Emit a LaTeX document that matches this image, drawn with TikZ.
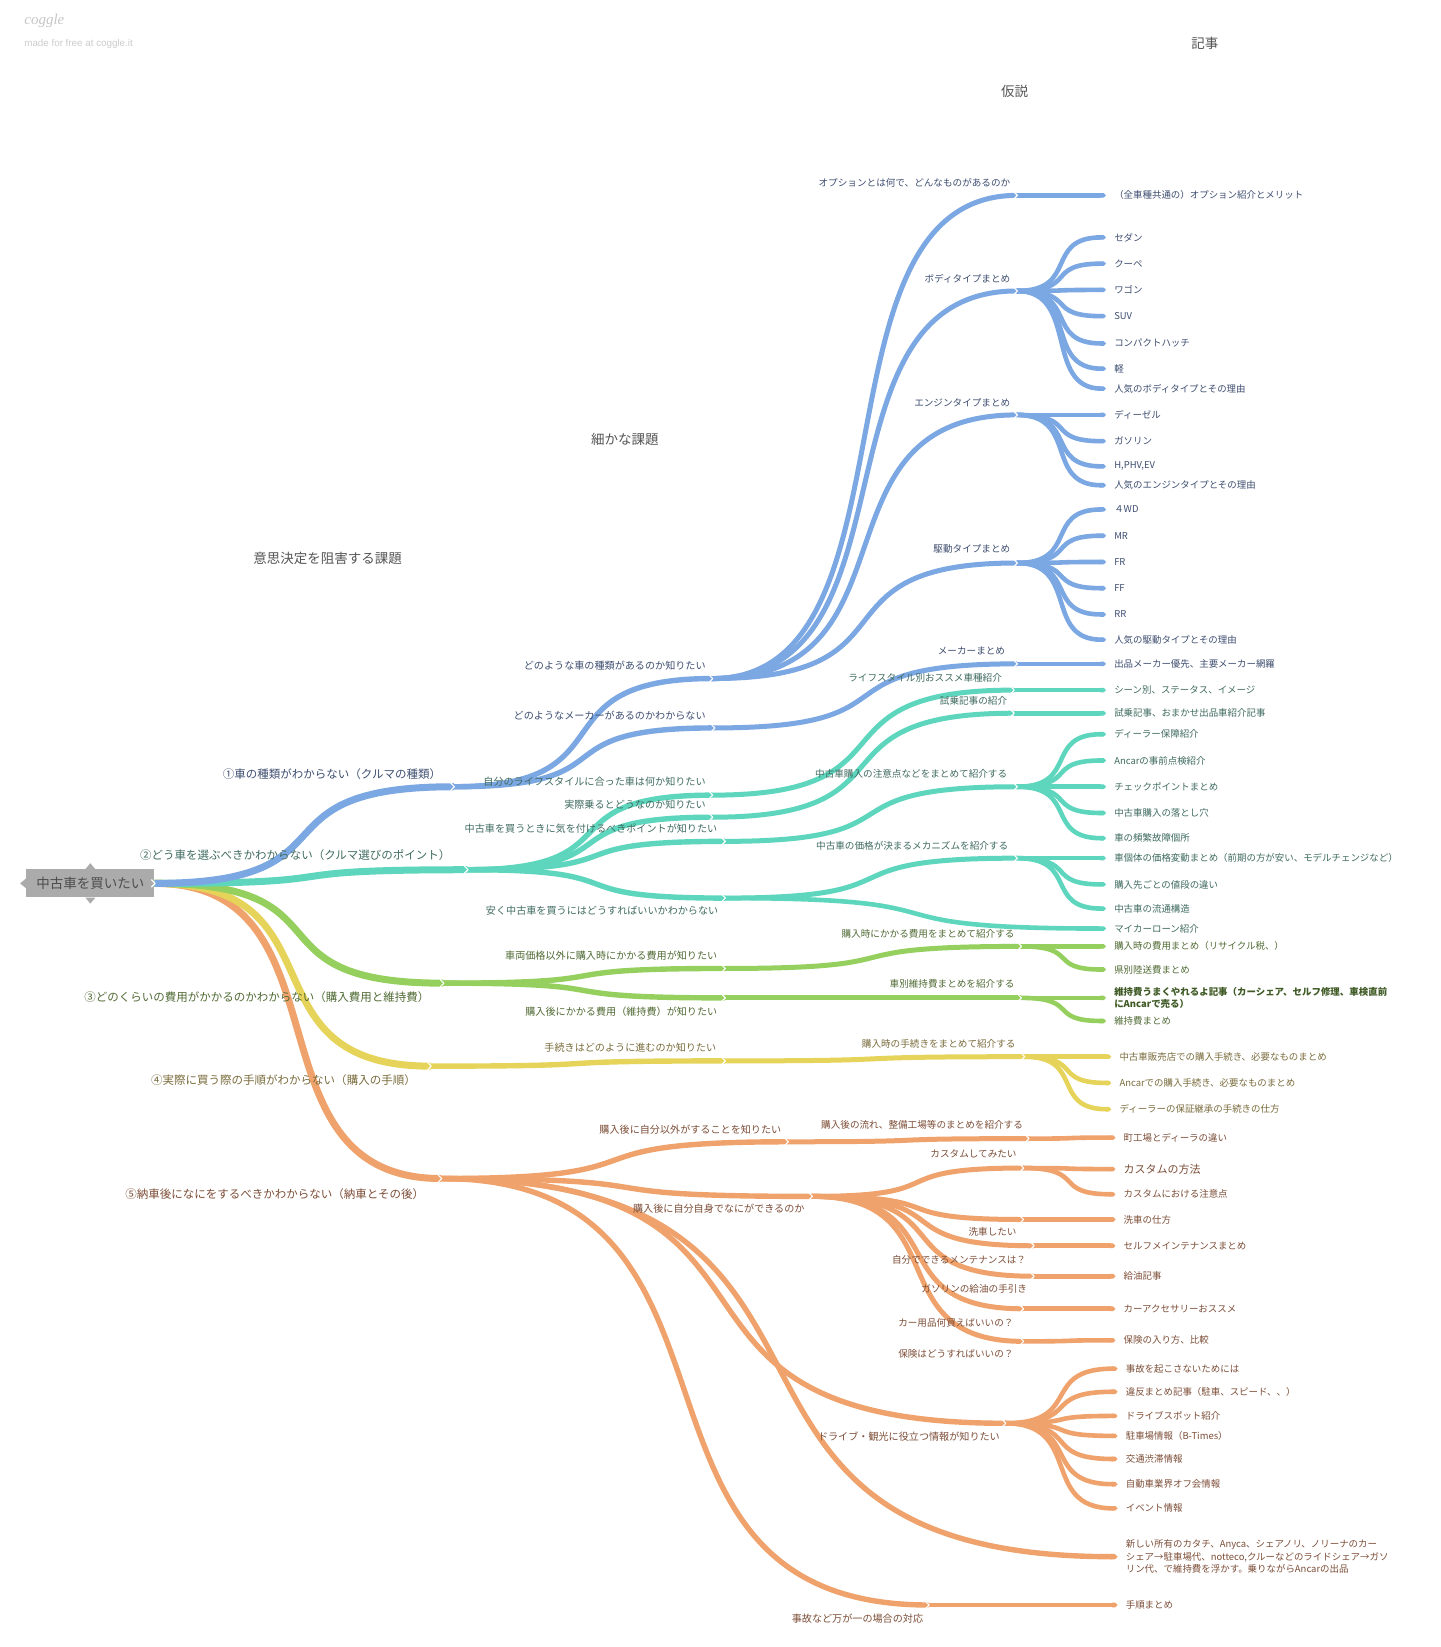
\documentclass[tikz,border=0pt]{standalone}
\usepackage{fontspec}
\setmainfont{Noto Sans CJK JP}
\newfontfamily\logofont{Liberation Serif}
\newfontfamily\logosans{Liberation Sans}
\usetikzlibrary{arrows.meta,calc}
\definecolor{cB}{HTML}{7BA7E2}
\definecolor{cT}{HTML}{5ED6BD}
\definecolor{cG}{HTML}{95D05E}
\definecolor{cY}{HTML}{E6D45A}
\definecolor{cO}{HTML}{EFA26B}
\definecolor{kB}{HTML}{3E4E70}
\definecolor{kT}{HTML}{3F6B60}
\definecolor{kG}{HTML}{516B35}
\definecolor{kGb}{HTML}{3F5A25}
\definecolor{kY}{HTML}{7A6C3C}
\definecolor{kO}{HTML}{7D4E38}
\definecolor{kH}{HTML}{555555}
\definecolor{rootg}{HTML}{ABABAB}
\newcommand\mmlink[3]{\draw[#1] let \p1=(#2), \p2=(#3) in (\p1) .. controls ({\x1+0.7*(\x2-\x1)},\y1) and ({\x2-0.7*(\x2-\x1)},\y2) .. (\p2);}
\newcommand\mmchev[1]{\draw[white,line width=1.1pt,line cap=round,line join=round] ([shift={(-3pt,3.6pt)}]#1) -- ([shift={(0.6pt,0pt)}]#1) -- ([shift={(-3pt,-3.6pt)}]#1);}
\newcommand\mmleaf[7]{\coordinate (#3) at (#4,#5); \mmlink{#1}{#2}{#3} \node[#6,anchor=west] (#3t) at ([xshift=7pt]#3) {#7};}
\tikzset{
  lw1/.style={line width=7pt},
  lw2/.style={line width=5.4pt},
  lw3/.style={line width=5pt},
  lfw/.style={line width=4.6pt,-{Triangle Cap[]}},
  f1/.style={font=\fontsize{11.5}{13}\selectfont,inner sep=1pt},
  f2/.style={font=\fontsize{10.1}{12}\selectfont,inner sep=1pt},
  f3/.style={font=\fontsize{9.6}{11}\selectfont,inner sep=1pt},
  fl/.style={font=\fontsize{9.45}{12.6}\selectfont,inner sep=1pt},
  flb/.style={font=\bfseries\fontsize{9.45}{12}\selectfont,inner sep=1pt},
  txB/.style={text=kB}, txT/.style={text=kT}, txG/.style={text=kG},
  txY/.style={text=kY}, txO/.style={text=kO},
  hd/.style={font=\fontsize{13.5}{15}\selectfont,text=kH,inner sep=1pt}
}
\begin{document}
\begin{tikzpicture}[x=1.0503pt,y=-1.0503pt]
\useasboundingbox (0,0) rectangle (1371,1568);
\fill[white] (0,0) rectangle (1371,1568);

% logo and headings
\node[anchor=west,text=gray!45,font=\logofont\itshape\fontsize{15}{16}\selectfont,inner sep=0pt] (logo) at (23,20) {coggle};
\node[anchor=west,text=gray!40,font=\logosans\fontsize{9.8}{11}\selectfont,inner sep=0pt] (logo2) at (23,42) {made for free at coggle.it};
\node[hd] (hd1) at (1147,41) {記事};
\node[hd] (hd2) at (966,87) {仮説};
\node[hd] (hd3) at (595,418) {細かな課題};
\node[hd] (hd4) at (312,532) {意思決定を阻害する課題};

% root
\node[fill=rootg,minimum width=128pt,minimum height=28pt,inner sep=0pt,text=black!70,font=\fontsize{13.5}{15}\selectfont] (root) at (86,841) {中古車を買いたい};
\fill[rootg] ([xshift=-5pt]root.north) -- ([yshift=6pt]root.north) -- ([xshift=5pt]root.north) -- cycle;
\fill[rootg] ([xshift=-5pt]root.south) -- ([yshift=-6pt]root.south) -- ([xshift=5pt]root.south) -- cycle;
\fill[rootg] ([yshift=5pt]root.west) -- ([xshift=-6pt]root.west) -- ([yshift=-5pt]root.west) -- cycle;
\coordinate (R) at (root.east);

% junctions
\coordinate (A1) at (432,749);
\coordinate (A2) at (445,828);
\coordinate (A3) at (422,936);
\coordinate (A4) at (410,1015);
\coordinate (A5) at (420,1122);
\coordinate (B1) at (678,646);
\coordinate (B2) at (680,693);
\coordinate (T1) at (678,757);
\coordinate (T2) at (678,778);
\coordinate (T3) at (690,801);
\coordinate (T4) at (690,855);
\coordinate (G1) at (690,922);
\coordinate (G2) at (690,950);
\coordinate (Y1) at (690,1010);
\coordinate (O1) at (750,1087);
\coordinate (O2) at (773,1139);
\coordinate (O3) at (957,1355);
\coordinate (O4) at (884,1528);
\coordinate (C1) at (968,186);
\coordinate (C2) at (968,277);
\coordinate (C3) at (968,395);
\coordinate (C4) at (968,536);
\coordinate (C5) at (968,632);
\coordinate (D1) at (965,657);
\coordinate (D2) at (965,679);
\coordinate (D3) at (968,749);
\coordinate (D4) at (968,817);
\coordinate (E1) at (972,901);
\coordinate (E2) at (972,950);
\coordinate (F1) at (975,1006);
\coordinate (H1) at (979,1084);
\coordinate (H2) at (974,1112);
\coordinate (H3) at (974,1161);
\coordinate (H4) at (984,1186);
\coordinate (H5) at (984,1215);
\coordinate (H6) at (974,1246);
\coordinate (H7) at (974,1277);

% leaves (blue)
\mmleaf{cB,lfw}{C1}{K1}{1053}{186}{fl,txB}{（全車種共通の）オプション紹介とメリット}
\mmleaf{cB,lfw}{C2}{K2}{1053}{226}{fl,txB}{セダン}
\mmleaf{cB,lfw}{C2}{K3}{1053}{251}{fl,txB}{クーペ}
\mmleaf{cB,lfw}{C2}{K4}{1053}{276}{fl,txB}{ワゴン}
\mmleaf{cB,lfw}{C2}{K5}{1053}{301}{fl,txB}{SUV}
\mmleaf{cB,lfw}{C2}{K6}{1053}{327}{fl,txB}{コンパクトハッチ}
\mmleaf{cB,lfw}{C2}{K7}{1053}{351}{fl,txB}{軽}
\mmleaf{cB,lfw}{C2}{K8}{1053}{370}{fl,txB}{人気のボディタイプとその理由}
\mmleaf{cB,lfw}{C3}{K9}{1053}{395}{fl,txB}{ディーゼル}
\mmleaf{cB,lfw}{C3}{K10}{1053}{420}{fl,txB}{ガソリン}
\mmleaf{cB,lfw}{C3}{K11}{1053}{444}{fl,txB}{H,PHV,EV}
\mmleaf{cB,lfw}{C3}{K12}{1053}{462}{fl,txB}{人気のエンジンタイプとその理由}
\mmleaf{cB,lfw}{C4}{K13}{1053}{485}{fl,txB}{４WD}
\mmleaf{cB,lfw}{C4}{K14}{1053}{510}{fl,txB}{MR}
\mmleaf{cB,lfw}{C4}{K15}{1053}{535}{fl,txB}{FR}
\mmleaf{cB,lfw}{C4}{K16}{1053}{560}{fl,txB}{FF}
\mmleaf{cB,lfw}{C4}{K17}{1053}{585}{fl,txB}{RR}
\mmleaf{cB,lfw}{C4}{K18}{1053}{609}{fl,txB}{人気の駆動タイプとその理由}
\mmleaf{cB,lfw}{C5}{K19}{1053}{632}{fl,txB}{出品メーカー優先、主要メーカー網羅}
% leaves (teal)
\mmleaf{cT,lfw}{D1}{K20}{1053}{657}{fl,txT}{シーン別、ステータス、イメージ}
\mmleaf{cT,lfw}{D2}{K21}{1053}{679}{fl,txT}{試乗記事、おまかせ出品車紹介記事}
\mmleaf{cT,lfw}{D3}{K22}{1053}{699}{fl,txT}{ディーラー保障紹介}
\mmleaf{cT,lfw}{D3}{K23}{1053}{724}{fl,txT}{Ancarの事前点検紹介}
\mmleaf{cT,lfw}{D3}{K24}{1053}{749}{fl,txT}{チェックポイントまとめ}
\mmleaf{cT,lfw}{D3}{K25}{1053}{774}{fl,txT}{中古車購入の落とし穴}
\mmleaf{cT,lfw}{D3}{K26}{1053}{798}{fl,txT}{車の頻繁故障個所}
\mmleaf{cT,lfw}{D4}{K27}{1053}{817}{fl,txT}{車個体の価格変動まとめ（前期の方が安い、モデルチェンジなど）}
\mmleaf{cT,lfw}{D4}{K28}{1053}{842}{fl,txT}{購入先ごとの値段の違い}
\mmleaf{cT,lfw}{D4}{K29}{1053}{865}{fl,txT}{中古車の流通構造}
\mmleaf{cT,lfw}{T4}{K30}{1053}{884}{fl,txT}{マイカーローン紹介}
% leaves (green)
\mmleaf{cG,lfw}{E1}{K31}{1053}{901}{fl,txG}{購入時の費用まとめ（リサイクル税、）}
\mmleaf{cG,lfw}{E1}{K32}{1053}{923}{fl,txG}{県別陸送費まとめ}
\mmleaf{cG,lfw}{E2}{K33}{1053}{950}{flb,text=kGb,align=left}{維持費うまくやれるよ記事（カーシェア、セルフ修理、車検直前\\にAncarで売る）}
\mmleaf{cG,lfw}{E2}{K34}{1053}{972}{fl,txG}{維持費まとめ}
% leaves (yellow)
\mmleaf{cY,lfw}{F1}{K35}{1058}{1006}{fl,txY}{中古車販売店での購入手続き、必要なものまとめ}
\mmleaf{cY,lfw}{F1}{K36}{1058}{1031}{fl,txY}{Ancarでの購入手続き、必要なものまとめ}
\mmleaf{cY,lfw}{F1}{K37}{1058}{1056}{fl,txY}{ディーラーの保証継承の手続きの仕方}
% leaves (orange)
\mmleaf{cO,lfw}{H1}{K38}{1062}{1083}{fl,txO}{町工場とディーラの違い}
\mmleaf{cO,lfw}{H2}{K39}{1062}{1113}{fl,txO,font=\fontsize{11}{13}\selectfont}{カスタムの方法}
\mmleaf{cO,lfw}{H2}{K40}{1062}{1137}{fl,txO}{カスタムにおける注意点}
\mmleaf{cO,lfw}{H3}{K41}{1062}{1161}{fl,txO}{洗車の仕方}
\mmleaf{cO,lfw}{H4}{K42}{1062}{1186}{fl,txO}{セルフメインテナンスまとめ}
\mmleaf{cO,lfw}{H5}{K43}{1062}{1215}{fl,txO}{給油記事}
\mmleaf{cO,lfw}{H6}{K44}{1062}{1246}{fl,txO}{カーアクセサリーおススメ}
\mmleaf{cO,lfw}{H7}{K45}{1062}{1276}{fl,txO}{保険の入り方、比較}
\mmleaf{cO,lfw}{O3}{K46}{1064}{1303}{fl,txO}{事故を起こさないためには}
\mmleaf{cO,lfw}{O3}{K47}{1064}{1325}{fl,txO}{違反まとめ記事（駐車、スピード、、）}
\mmleaf{cO,lfw}{O3}{K48}{1064}{1348}{fl,txO}{ドライブスポット紹介}
\mmleaf{cO,lfw}{O3}{K49}{1064}{1367}{fl,txO}{駐車場情報（B-Times）}
\mmleaf{cO,lfw}{O3}{K50}{1064}{1389}{fl,txO}{交通渋滞情報}
\mmleaf{cO,lfw}{O3}{K51}{1064}{1413}{fl,txO}{自動車業界オフ会情報}
\mmleaf{cO,lfw}{O3}{K52}{1064}{1436}{fl,txO}{イベント情報}
\mmleaf{cO,lw2,-{Triangle Cap[]}}{A5}{K53}{1064}{1482}{fl,txO,align=left}{新しい所有のカタチ、Anyca、シェアノリ、ノリーナのカー\\シェア→駐車場代、notteco,クルーなどのライドシェア→ガソ\\リン代、で維持費を浮かす。乗りながらAncarの出品}
\mmleaf{cO,lfw}{O4}{K54}{1064}{1528}{fl,txO}{手順まとめ}

% level 3 links
\mmlink{cB,lw3}{B1}{C1}
\mmlink{cB,lw3}{B1}{C2}
\mmlink{cB,lw3}{B1}{C3}
\mmlink{cB,lw3}{B1}{C4}
\mmlink{cB,lw3}{B2}{C5}
\mmlink{cT,lw3}{T1}{D1}
\mmlink{cT,lw3}{T2}{D2}
\mmlink{cT,lw3}{T3}{D3}
\mmlink{cT,lw3}{T4}{D4}
\mmlink{cG,lw3}{G1}{E1}
\mmlink{cG,lw3}{G2}{E2}
\mmlink{cY,lw3}{Y1}{F1}
\mmlink{cO,lw3}{O1}{H1}
\mmlink{cO,lw3}{O2}{H2}
\mmlink{cO,lw3}{O2}{H3}
\mmlink{cO,lw3}{O2}{H4}
\mmlink{cO,lw3}{O2}{H5}
\mmlink{cO,lw3}{O2}{H6}
\mmlink{cO,lw3}{O2}{H7}

% level 2 links
\mmlink{cB,lw2}{A1}{B1}
\mmlink{cB,lw2}{A1}{B2}
\mmlink{cT,lw2}{A2}{T1}
\mmlink{cT,lw2}{A2}{T2}
\mmlink{cT,lw2}{A2}{T3}
\mmlink{cT,lw2}{A2}{T4}
\mmlink{cG,lw2}{A3}{G1}
\mmlink{cG,lw2}{A3}{G2}
\mmlink{cY,lw2}{A4}{Y1}
\mmlink{cO,lw2}{A5}{O1}
\mmlink{cO,lw2}{A5}{O2}
\mmlink{cO,lw2}{A5}{O3}
\mmlink{cO,lw2}{A5}{O4}

% level 1 links
\mmlink{cO,lw1}{R}{A5}
\mmlink{cY,lw1}{R}{A4}
\mmlink{cG,lw1}{R}{A3}
\mmlink{cT,lw1}{R}{A2}
\mmlink{cB,lw1}{R}{A1}

% notches
\foreach \j in {R,A1,A2,A3,A4,A5,B1,B2,T1,T2,T3,T4,G1,G2,Y1,O1,O2,O3,O4,C1,C2,C3,C4,C5,D1,D2,D3,D4,E1,E2,F1,H1,H2,H3,H4,H5,H6,H7}{\mmchev{\j}}

% level 1 labels
\node[f1,txB,anchor=east] (A1t) at ([xshift=-11.5pt,yshift=12.6pt]A1) {①車の種類がわからない（クルマの種類）};
\node[f1,txT,anchor=east] (A2t) at ([xshift=-15.8pt,yshift=14.7pt]A2) {②どう車を選ぶべきかわからない（クルマ選びのポイント）};
\node[f1,txG,anchor=east] (A3t) at ([xshift=-12.6pt,yshift=-13.7pt]A3) {③どのくらいの費用がかかるのかわからない（購入費用と維持費）};
\node[f1,txY,anchor=east] (A4t) at ([xshift=-13.7pt,yshift=-13.7pt]A4) {④実際に買う際の手順がわからない（購入の手順）};
\node[f1,txO,anchor=east] (A5t) at ([xshift=-15.8pt,yshift=-15.8pt]A5) {⑤納車後になにをするべきかわからない（納車とその後）};

% level 2 labels
\node[f2,txB,anchor=east] (B1t) at ([xshift=-5.3pt,yshift=12.6pt]B1) {どのような車の種類があるのか知りたい};
\node[f2,txB,anchor=east] (B2t) at ([xshift=-7.4pt,yshift=12.6pt]B2) {どのようなメーカーがあるのかわからない};
\node[f2,txT,anchor=east] (T1t) at ([xshift=-5.3pt,yshift=13.7pt]T1) {自分のライフスタイルに合った車は何か知りたい};
\node[f2,txT,anchor=east] (T2t) at ([xshift=-5.3pt,yshift=12.6pt]T2) {実際乗るとどうなのか知りたい};
\node[f2,txT,anchor=east] (T3t) at ([xshift=-6.3pt,yshift=12.6pt]T3) {中古車を買うときに気を付けるべきポイントが知りたい};
\node[f2,txT,anchor=east] (T4t) at ([xshift=-5.3pt,yshift=-12.6pt]T4) {安く中古車を買うにはどうすればいいかわからない};
\node[f2,txG,anchor=east] (G1t) at ([xshift=-6.3pt,yshift=12.6pt]G1) {車両価格以外に購入時にかかる費用が知りたい};
\node[f2,txG,anchor=east] (G2t) at ([xshift=-6.3pt,yshift=-13.7pt]G2) {購入後にかかる費用（維持費）が知りたい};
\node[f2,txY,anchor=east] (Y1t) at ([xshift=-7.4pt,yshift=13.7pt]Y1) {手続きはどのように進むのか知りたい};
\node[f2,txO,anchor=east] (O1t) at ([xshift=-5.3pt,yshift=12.6pt]O1) {購入後に自分以外がすることを知りたい};
\node[f2,txO,anchor=east] (O2t) at ([xshift=-6.3pt,yshift=-12.6pt]O2) {購入後に自分自身でなにができるのか};
\node[f2,txO,anchor=east] (O3t) at ([xshift=-4.2pt,yshift=-13.7pt]O3) {ドライブ・観光に役立つ情報が知りたい};
\node[f2,txO,anchor=east] (O4t) at ([xshift=-4.2pt,yshift=-13.7pt]O4) {事故など万が一の場合の対応};

% level 3 labels
\node[f3,txB,anchor=east] (C1t) at ([xshift=-5.3pt,yshift=12.6pt]C1) {オプションとは何で、どんなものがあるのか};
\node[f3,txB,anchor=east] (C2t) at ([xshift=-5.3pt,yshift=12.6pt]C2) {ボディタイプまとめ};
\node[f3,txB,anchor=east] (C3t) at ([xshift=-5.3pt,yshift=12.6pt]C3) {エンジンタイプまとめ};
\node[f3,txB,anchor=east] (C4t) at ([xshift=-5.3pt,yshift=13.7pt]C4) {駆動タイプまとめ};
\node[f3,txB,anchor=east] (C5t) at ([xshift=-10.5pt,yshift=12.6pt]C5) {メーカーまとめ};
\node[f3,txT,anchor=east] (D1t) at ([xshift=-10.5pt,yshift=12.6pt]D1) {ライフスタイル別おススメ車種紹介};
\node[f3,txT,anchor=east] (D2t) at ([xshift=-5.3pt,yshift=12.6pt]D2) {試乗記事の紹介};
\node[f3,txT,anchor=east] (D3t) at ([xshift=-8.4pt,yshift=12.6pt]D3) {中古車購入の注意点などをまとめて紹介する};
\node[f3,txT,anchor=east] (D4t) at ([xshift=-7.4pt,yshift=12.6pt]D4) {中古車の価格が決まるメカニズムを紹介する};
\node[f3,txG,anchor=east] (E1t) at ([xshift=-5.3pt,yshift=12.6pt]E1) {購入時にかかる費用をまとめて紹介する};
\node[f3,txG,anchor=east] (E2t) at ([xshift=-5.3pt,yshift=13.7pt]E2) {車別維持費まとめを紹介する};
\node[f3,txY,anchor=east] (F1t) at ([xshift=-7.4pt,yshift=12.6pt]F1) {購入時の手続きをまとめて紹介する};
\node[f3,txO,anchor=east] (H1t) at ([xshift=-4.2pt,yshift=13.7pt]H1) {購入後の流れ、整備工場等のまとめを紹介する};
\node[f3,txO,anchor=east] (H2t) at ([xshift=-5.3pt,yshift=13.7pt]H2) {カスタムしてみたい};
\node[f3,txO,anchor=east] (H3t) at ([xshift=-5.3pt,yshift=-12.6pt]H3) {洗車したい};
\node[f3,txO,anchor=east] (H4t) at ([xshift=-6.3pt,yshift=-13.7pt]H4) {自分でできるメンテナンスは？};
\node[f3,txO,anchor=east] (H5t) at ([xshift=-5.3pt,yshift=-12.6pt]H5) {ガソリンの給油の手引き};
\node[f3,txO,anchor=east] (H6t) at ([xshift=-8.4pt,yshift=-13.7pt]H6) {カー用品何買えばいいの？};
\node[f3,txO,anchor=east] (H7t) at ([xshift=-8.4pt,yshift=-12.6pt]H7) {保険はどうすればいいの？};
\end{tikzpicture}
\end{document}
